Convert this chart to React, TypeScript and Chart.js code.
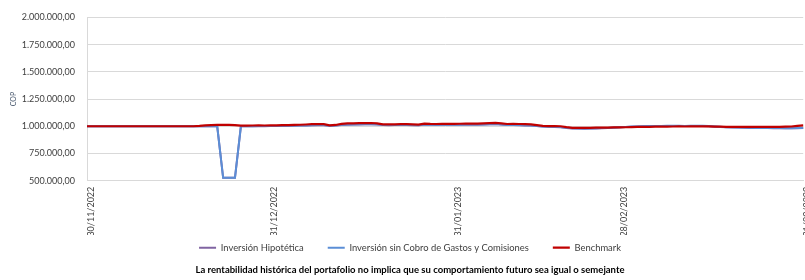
import React, { useEffect, useRef } from "react";
import { Chart, registerables } from "chart.js";

Chart.register(...registerables);

// Daily categories from 30/11/2022 to 31/03/2023
const START_DATE = [2022, 10, 30]; // year, monthIndex, day
const DAY_COUNT = 122;

const tickLabels = ["30/11/2022", "31/12/2022", "31/01/2023", "28/02/2023", "31/03/2023"];

const benchmark = [
  1000000, 1000000, 1000000, 1000000, 1000000, 1000000, 1000000, 1000000, 1000000, 1000000,
  1000000, 1000000, 1000000, 1000000, 1000000, 1000000, 1000000, 1000000, 1000000, 1003000,
  1008000, 1010000, 1012000, 1012000, 1013000, 1010000, 1006000, 1005000, 1007000, 1008000,
  1007000, 1008000, 1009000, 1010000, 1011000, 1013000, 1014000, 1016000, 1019000, 1020000,
  1019000, 1009000, 1012000, 1022000, 1026000, 1027000, 1028000, 1029000, 1030000, 1027000,
  1018000, 1017000, 1018000, 1019000, 1020000, 1017000, 1015000, 1025000, 1022000, 1021000,
  1022000, 1023000, 1022000, 1023000, 1024000, 1025000, 1024000, 1026000, 1029000, 1032000,
  1027000, 1021000, 1022000, 1021000, 1019000, 1018000, 1011000, 1004000, 1002000, 1001000,
  1000000, 992000, 986000, 985000, 985000, 986000, 987000, 988000, 988000, 989000,
  990000, 991000, 993000, 994000, 994000, 995000, 996000, 996000, 997000, 998000,
  999000, 998000, 999000, 999000, 1000000, 999000, 997000, 996000, 995000, 994000,
  994000, 995000, 994000, 994000, 995000, 994000, 994000, 995000, 996000, 998000,
  1004000, 1008000,
];

const sinCobro = [
  1000000, 1000000, 1000000, 1000000, 1000000, 1000000, 1000000, 1000000, 1000000, 1000000,
  1000000, 1000000, 1000000, 1000000, 1000000, 1000000, 1000000, 1000000, 1000000, 1000000,
  1000000, 1000000, 1000000, 527000, 527000, 527000, 1000000, 1000000, 1001000, 1002000,
  1002000, 1003000, 1003000, 1004000, 1005000, 1006000, 1007000, 1008000, 1010000, 1011000,
  1011000, 1005000, 1008000, 1013000, 1016000, 1017000, 1018000, 1019000, 1020000, 1018000,
  1012000, 1011000, 1012000, 1012000, 1013000, 1011000, 1010000, 1016000, 1014000, 1013000,
  1014000, 1015000, 1014000, 1015000, 1016000, 1016000, 1016000, 1017000, 1019000, 1021000,
  1017000, 1012000, 1012000, 1011000, 1009000, 1008000, 1003000, 998000, 996000, 995000,
  993000, 986000, 981000, 980000, 979000, 980000, 981000, 983000, 985000, 988000,
  991000, 994000, 997000, 999000, 1001000, 1002000, 1003000, 1003000, 1004000, 1004000,
  1004000, 1003000, 1004000, 1004000, 1004000, 1002000, 998000, 995000, 992000, 990000,
  989000, 988000, 986000, 985000, 985000, 984000, 983000, 983000, 982000, 982000,
  983000, 985000,
];

const hipotetica = [
  1000000, 1000000, 1000000, 1000000, 1000000, 1000000, 1000000, 1000000, 1000000, 1000000,
  1000000, 1000000, 1000000, 1000000, 1000000, 1000000, 1000000, 1000000, 1000000, 1000000,
  1000000, 1000000, 1000000, 527000, 527000, 527000, 1000000, 1000000, 1000000, 1001000,
  1001000, 1002000, 1002000, 1003000, 1004000, 1005000, 1006000, 1007000, 1009000, 1010000,
  1010000, 1004000, 1007000, 1012000, 1015000, 1016000, 1017000, 1018000, 1019000, 1017000,
  1011000, 1010000, 1011000, 1011000, 1012000, 1010000, 1009000, 1015000, 1013000, 1012000,
  1013000, 1014000, 1013000, 1014000, 1015000, 1015000, 1015000, 1016000, 1018000, 1020000,
  1016000, 1011000, 1011000, 1010000, 1008000, 1007000, 1002000, 997000, 995000, 994000,
  992000, 985000, 980000, 979000, 978000, 979000, 980000, 982000, 984000, 987000,
  990000, 993000, 996000, 998000, 1000000, 1001000, 1002000, 1002000, 1003000, 1003000,
  1003000, 1002000, 1003000, 1003000, 1003000, 1001000, 997000, 994000, 991000, 989000,
  988000, 987000, 985000, 984000, 984000, 983000, 982000, 982000, 981000, 981000,
  982000, 984000,
];

const seriesNames = [
  "Inversión Hipotética",
  "Inversión sin Cobro de Gastos y Comisiones",
  "Benchmark",
];
const seriesColors = ["#8064A2", "#5B8ED6", "#C00000"];

const footerText =
  "La rentabilidad histórica del portafolio no implica que su comportamiento futuro sea igual o semejante";

function pad2(n: number) {
  return n < 10 ? "0" + n : "" + n;
}

function buildCategories(): string[] {
  const out: string[] = [];
  const d = new Date(START_DATE[0], START_DATE[1], START_DATE[2]);
  for (let i = 0; i < DAY_COUNT; i++) {
    out.push(pad2(d.getDate()) + "/" + pad2(d.getMonth() + 1) + "/" + d.getFullYear());
    d.setDate(d.getDate() + 1);
  }
  return out;
}

function formatCOP(v: number): string {
  const s = Math.round(v).toString();
  const withDots = s.replace(/\B(?=(\d{3})+(?!\d))/g, ".");
  return withDots + ",00";
}

const FONT = "Lato, 'Open Sans', sans-serif";
const TEXT = "#404040";
const GRID = "#d9d9d9";

const LEGEND_HEIGHT = 27.8;
const LEGEND_SHIFT = 16;

// Keep wide horizontal spacing between legend items while keeping the legend box compact
const legendBoxPlugin = {
  id: "legendBox",
  beforeLayout(chart: any) {
    const lg = chart.legend;
    if (lg && !lg.__patched) {
      const origFit = lg.fit.bind(lg);
      lg.fit = function () {
        origFit();
        this.height = LEGEND_HEIGHT;
      };
      lg.__patched = true;
    }
  },
  afterLayout(chart: any) {
    const lg = chart.legend;
    if (lg) {
      lg.top -= LEGEND_SHIFT;
    }
  },
};

export default function App() {
  const canvasRef = useRef<HTMLCanvasElement | null>(null);

  useEffect(() => {
    const canvas = canvasRef.current;
    if (!canvas) return;
    const categories = buildCategories();
    const chart = new Chart(canvas, {
      type: "line",
      data: {
        labels: categories,
        datasets: [
          {
            label: seriesNames[0],
            data: hipotetica,
            borderColor: seriesColors[0],
            backgroundColor: seriesColors[0],
            borderWidth: 2,
            pointRadius: 0,
            tension: 0,
            order: 3,
          },
          {
            label: seriesNames[1],
            data: sinCobro,
            borderColor: seriesColors[1],
            backgroundColor: seriesColors[1],
            borderWidth: 2,
            pointRadius: 0,
            tension: 0,
            order: 2,
          },
          {
            label: seriesNames[2],
            data: benchmark,
            borderColor: seriesColors[2],
            backgroundColor: seriesColors[2],
            borderWidth: 2.2,
            pointRadius: 0,
            tension: 0,
            order: 1,
          },
        ],
      },
      plugins: [legendBoxPlugin],
      options: {
        responsive: false,
        animation: false,
        layout: { padding: { left: 0, right: 0, top: 15, bottom: 2.3 } },
        plugins: {
          legend: {
            position: "bottom",
            labels: {
              color: TEXT,
              font: { family: FONT, size: 9.4 },
              usePointStyle: true,
              pointStyle: "line",
              pointStyleWidth: 17,
              boxHeight: 9,
              padding: 24,
              sort: (a: any, b: any) => a.datasetIndex - b.datasetIndex,
            },
          },
          title: {
            display: true,
            position: "bottom",
            text: footerText,
            color: "#000000",
            font: { family: FONT, size: 9.5, weight: "bold" },
            padding: { top: 1.5, bottom: 2 },
          },
          tooltip: { enabled: false },
        },
        scales: {
          x: {
            type: "category",
            offset: false,
            grid: {
              color: (ctx: any) =>
                tickLabels.includes(categories[ctx.index]) ? GRID : "rgba(0,0,0,0)",
              lineWidth: 1,
              drawTicks: false,
            },
            border: { color: GRID },
            ticks: {
              autoSkip: false,
              minRotation: 90,
              maxRotation: 90,
              padding: 6,
              labelOffset: 4,
              color: TEXT,
              font: { family: FONT, size: 9 },
              callback: (_v: any, index: number) =>
                tickLabels.includes(categories[index]) ? categories[index] : null,
            },
            afterFit: (scale: any) => {
              scale.height = 54.3;
            },
          },
          y: {
            min: 500000,
            max: 2000000,
            grid: { color: GRID, lineWidth: 1, drawTicks: false },
            border: { color: GRID },
            ticks: {
              stepSize: 250000,
              padding: 12,
              color: TEXT,
              font: { family: FONT, size: 9 },
              callback: (v: any) => formatCOP(Number(v)),
            },
            title: {
              display: true,
              text: "COP",
              color: "#44546A",
              font: { family: FONT, size: 7 },
              padding: { top: 10, bottom: 0 },
            },
            afterFit: (scale: any) => {
              scale.width = 87;
            },
          },
        },
      },
    });
    return () => {
      chart.destroy();
    };
  }, []);

  return (
    <div
      style={{
        position: "absolute",
        left: 0,
        top: 0,
        width: 805,
        height: 280,
        overflow: "hidden",
        background: "#ffffff",
      }}
    >
      <canvas ref={canvasRef} width={820} height={280} style={{ display: "block" }} />
    </div>
  );
}
